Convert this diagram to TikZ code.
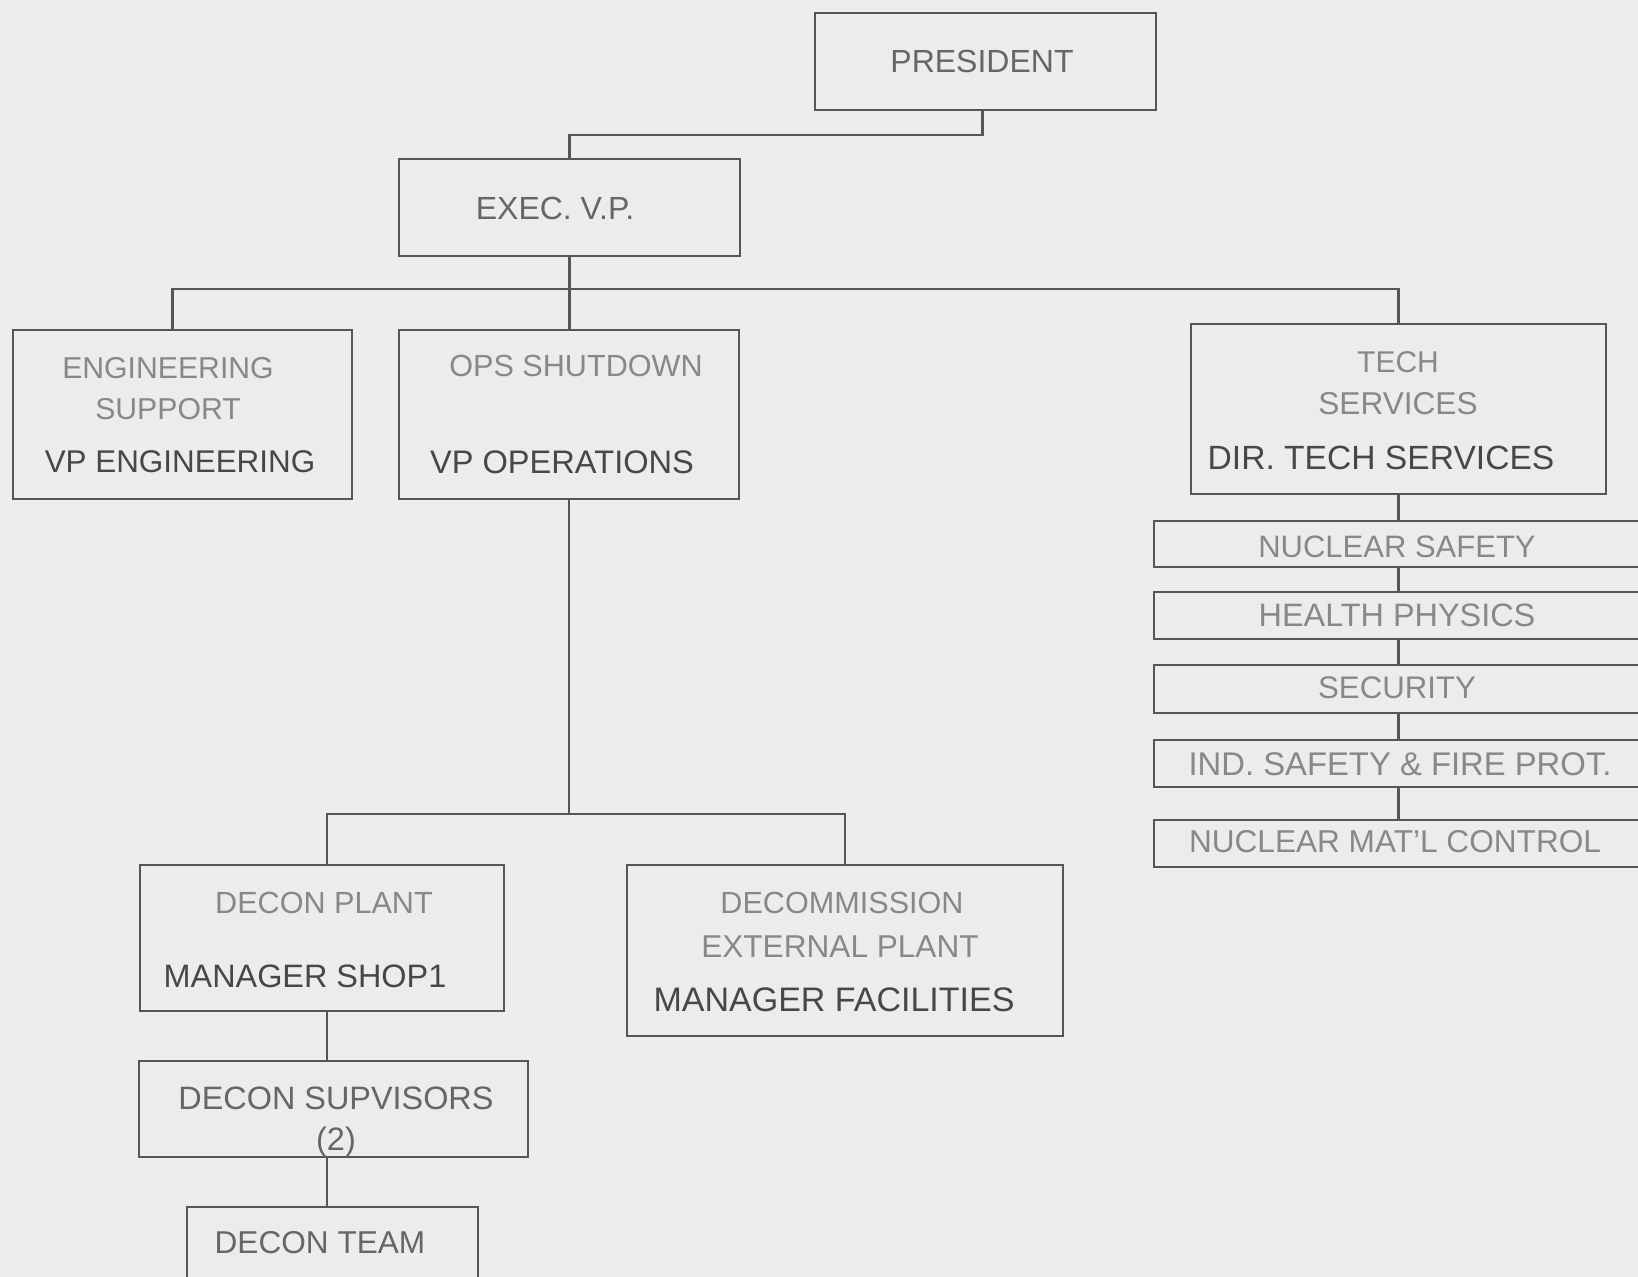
\documentclass[tikz,border=0pt]{standalone}
\usepackage{fontspec}
\setmainfont{Liberation Sans}
\usetikzlibrary{fit,calc}
\definecolor{bgc}{HTML}{ECECEA}
\definecolor{linec}{HTML}{555555}
\definecolor{lightt}{HTML}{888888}
\definecolor{midt}{HTML}{666666}
\definecolor{darkt}{HTML}{474747}
\newcommand{\fsz}[1]{\fontsize{#1}{#1}\selectfont}
\begin{document}
\begin{tikzpicture}[x=0.5pt,y=-0.5pt,
  box/.style={draw=linec,line width=1.2pt,fill=bgc,inner sep=0pt,rectangle},
  conn/.style={draw=linec,line width=1.2pt},
  lt/.style={text=lightt,inner sep=0pt,anchor=center},
  mt/.style={text=midt,inner sep=0pt,anchor=center},
  dt/.style={text=darkt,inner sep=0pt,anchor=center}]
\useasboundingbox (0,0) rectangle (1638,1277);
\clip (0,0) rectangle (1638,1277);
\fill[bgc] (0,0) rectangle (1638,1277);

\node[box,fit={(815,13) (1156,110)}] (pres) {};
\node[box,fit={(399,159) (740,256)}] (exec) {};
\node[box,fit={(13,330) (352,499)}] (eng) {};
\node[box,fit={(399,330) (739,499)}] (ops) {};
\node[box,fit={(1191,324) (1606,494)}] (tech) {};
\node[box,fit={(1154,521) (1670,567)}] (ns) {};
\node[box,fit={(1154,592) (1670,639)}] (hp) {};
\node[box,fit={(1154,665) (1670,713)}] (sec) {};
\node[box,fit={(1154,740) (1670,787)}] (ind) {};
\node[box,fit={(1154,820) (1670,867)}] (nmc) {};
\node[box,fit={(140,865) (504,1011)}] (dp) {};
\node[box,fit={(627,865) (1063,1036)}] (dc) {};
\node[box,fit={(139,1061) (528,1157)}] (ds) {};
\node[box,fit={(187,1207) (478,1340)}] (dt) {};

\draw[conn] ($(pres.south)+(-3,0)$) -- ++(0,24) -| (exec.north);
\draw[conn] (exec.south) -- (exec.south |- ops.north);
\draw[conn] ($(eng.north)+(-10,0)$) -- ++(0,-40) -| (tech.north);
\draw[conn] (tech.south) -- (tech.south |- ns.north);
\draw[conn] (tech.south |- ns.south) -- (tech.south |- hp.north);
\draw[conn] (tech.south |- hp.south) -- (tech.south |- sec.north);
\draw[conn] (tech.south |- sec.south) -- (tech.south |- ind.north);
\draw[conn] (tech.south |- ind.south) -- (tech.south |- nmc.north);
\draw[conn] (ops.south) -- (ops.south |- 0,815);
\draw[conn] ($(dp.north)+(5,0)$) -- ++(0,-50) -| (dc.north);
\coordinate (c1) at ($(dp.south)+(5,0)$);
\draw[conn] (c1) -- (c1 |- ds.north);
\draw[conn] (c1 |- ds.south) -- (c1 |- dt.north);

\node[mt,font=\fsz{16}] (presT) at (982,61) {PRESIDENT};
\node[mt,font=\fsz{16}] (execT) at (555,208) {EXEC.\ V.P.};
\node[lt,font=\fsz{15.1}] (engT1) at (168,368) {ENGINEERING};
\node[lt,font=\fsz{15.1}] (engT2) at (168,409) {SUPPORT};
\node[dt,font=\fsz{15.7}] (engT3) at (180,462) {VP ENGINEERING};
\node[lt,font=\fsz{15.3}] (opsT1) at (576,366) {OPS SHUTDOWN};
\node[dt,font=\fsz{16.3}] (opsT2) at (562,462) {VP OPERATIONS};
\node[lt,font=\fsz{15}] (techT1) at (1398,362) {TECH};
\node[lt,font=\fsz{15.8}] (techT2) at (1398,404) {SERVICES};
\node[dt,font=\fsz{16.8}] (techT3) at (1381,458) {DIR.\ TECH SERVICES};
\node[lt,font=\fsz{15.5}] (nsT) at (1397,547) {NUCLEAR SAFETY};
\node[lt,font=\fsz{16.2}] (hpT) at (1397,615) {HEALTH PHYSICS};
\node[lt,font=\fsz{15.6}] (secT) at (1397,688) {SECURITY};
\node[lt,font=\fsz{16.4}] (indT) at (1400,764) {IND.\ SAFETY \& FIRE PROT.};
\node[lt,font=\fsz{15.8}] (nmcT) at (1395,842) {NUCLEAR MAT'L CONTROL};
\node[lt,font=\fsz{15.3}] (dpT1) at (324,903) {DECON PLANT};
\node[dt,font=\fsz{16.2}] (dpT2) at (305,976) {MANAGER SHOP1};
\node[lt,font=\fsz{15.3}] (dcT1) at (842,903) {DECOMMISSION};
\node[lt,font=\fsz{15.8}] (dcT2) at (840,947) {EXTERNAL PLANT};
\node[dt,font=\fsz{17}] (dcT3) at (834,1000) {MANAGER FACILITIES};
\node[mt,font=\fsz{16.2}] (dsT1) at (336,1098) {DECON SUPVISORS};
\node[mt,font=\fsz{16.2}] (dsT2) at (336,1142) {(2)};
\node[mt,font=\fsz{15.8}] (dtT) at (320,1243) {DECON TEAM};
\end{tikzpicture}
\end{document}
